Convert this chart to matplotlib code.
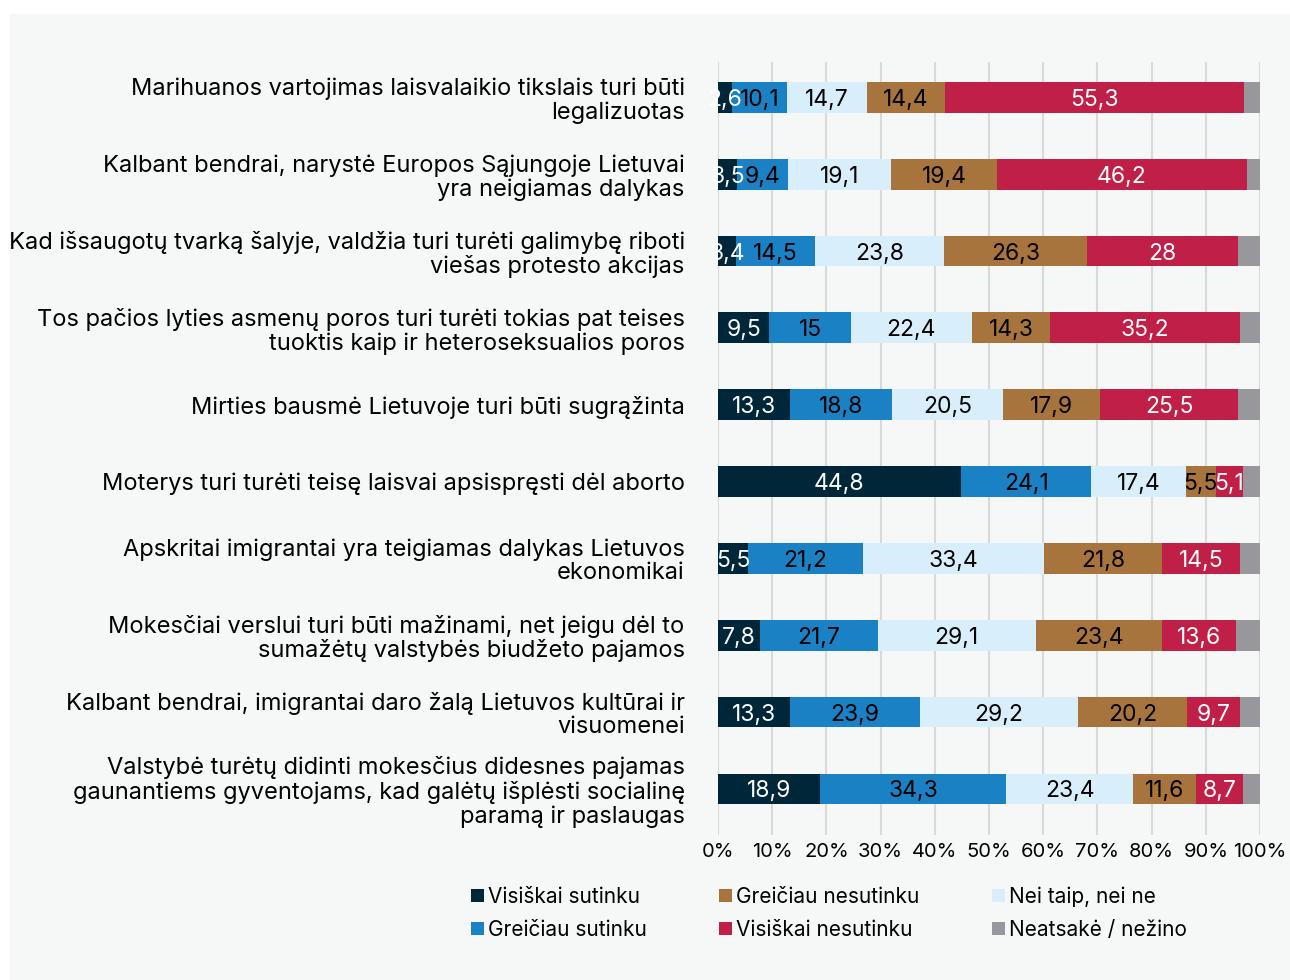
import matplotlib.pyplot as plt
from matplotlib.patches import Rectangle

plt.rcParams['font.family'] = ['Inter', 'DejaVu Sans']

# Statements (top to bottom)
statements = [
    "Marihuanos vartojimas laisvalaikio tikslais turi būti\nlegalizuotas",
    "Kalbant bendrai, narystė Europos Sąjungoje Lietuvai\nyra neigiamas dalykas",
    "Kad išsaugotų tvarką šalyje, valdžia turi turėti galimybę riboti\nviešas protesto akcijas",
    "Tos pačios lyties asmenų poros turi turėti tokias pat teises\ntuoktis kaip ir heteroseksualios poros",
    "Mirties bausmė Lietuvoje turi būti sugrąžinta",
    "Moterys turi turėti teisę laisvai apsispręsti dėl aborto",
    "Apskritai imigrantai yra teigiamas dalykas Lietuvos\nekonomikai",
    "Mokesčiai verslui turi būti mažinami, net jeigu dėl to\nsumažėtų valstybės biudžeto pajamos",
    "Kalbant bendrai, imigrantai daro žalą Lietuvos kultūrai ir\nvisuomenei",
    "Valstybė turėtų didinti mokesčius didesnes pajamas\ngaunantiems gyventojams, kad galėtų išplėsti socialinę\nparamą ir paslaugas",
]

visiskai_sutinku = [2.6, 3.5, 3.4, 9.5, 13.3, 44.8, 5.5, 7.8, 13.3, 18.9]
greiciau_sutinku = [10.1, 9.4, 14.5, 15, 18.8, 24.1, 21.2, 21.7, 23.9, 34.3]
nei_taip_nei_ne = [14.7, 19.1, 23.8, 22.4, 20.5, 17.4, 33.4, 29.1, 29.2, 23.4]
greiciau_nesutinku = [14.4, 19.4, 26.3, 14.3, 17.9, 5.5, 21.8, 23.4, 20.2, 11.6]
visiskai_nesutinku = [55.3, 46.2, 28, 35.2, 25.5, 5.1, 14.5, 13.6, 9.7, 8.7]
neatsake = [2.9, 2.4, 4.0, 3.6, 4.0, 3.1, 3.6, 4.4, 3.7, 3.1]

series = [
    ("Visiškai sutinku", visiskai_sutinku, "#002639", "white"),
    ("Greičiau sutinku", greiciau_sutinku, "#1a82c4", "black"),
    ("Nei taip, nei ne", nei_taip_nei_ne, "#d8effb", "black"),
    ("Greičiau nesutinku", greiciau_nesutinku, "#a8743d", "black"),
    ("Visiškai nesutinku", visiskai_nesutinku, "#c01f48", "white"),
    ("Neatsakė / nežino", neatsake, "#98989c", None),
]

fig = plt.figure(figsize=(12.9, 9.8), dpi=100, facecolor="white")
fig.patches.append(Rectangle((10 / 1290, 0), 1280 / 1290, 966 / 980,
                             transform=fig.transFigure, facecolor="#f6f7f7",
                             edgecolor="none", zorder=-1))

ax = fig.add_axes([718 / 1290, 1 - 835 / 980, 542 / 1290, (835 - 62) / 980])
ax.patch.set_alpha(0)

y = list(range(len(statements)))
left = [0.0] * len(statements)
handles = []
for name, vals, col, tcol in series:
    bars = ax.barh(y, vals, left=left, height=0.4, color=col, label=name, zorder=2)
    handles.append(bars)
    if tcol is not None:
        for yi, l, v in zip(y, left, vals):
            txt = f"{v:g}".replace(".", ",")
            ax.text(l + v / 2, yi, txt, ha="center", va="center_baseline",
                    color=tcol, fontsize=16.5, zorder=3)
    left = [a + b for a, b in zip(left, vals)]

ax.set_xlim(0, 100)
ax.set_ylim(9.6, -0.46)
ax.set_xticks(range(0, 101, 10))
ax.set_xticklabels([f"{t}%" for t in range(0, 101, 10)], fontsize=14.5)
ax.set_yticks(y)
ax.set_yticklabels(statements, fontsize=17, linespacing=1.08)
ax.tick_params(axis="y", length=0, pad=24)
ax.tick_params(axis="x", length=0, pad=6)
ax.grid(axis="x", color="#d9d9d9", linewidth=1.5, zorder=0)
for s in ax.spines.values():
    s.set_visible(False)

order = [0, 1, 3, 4, 2, 5]
fig.legend([handles[i] for i in order], [series[i][0] for i in order],
           loc="center", bbox_to_anchor=(829 / 1290, 1 - 913 / 980), ncol=3,
           frameon=False, fontsize=15, handlelength=0.6, handleheight=0.6,
           handletextpad=0.2, columnspacing=3.5, labelspacing=0.6)

fig.savefig("out.png", dpi=100, facecolor="white")
